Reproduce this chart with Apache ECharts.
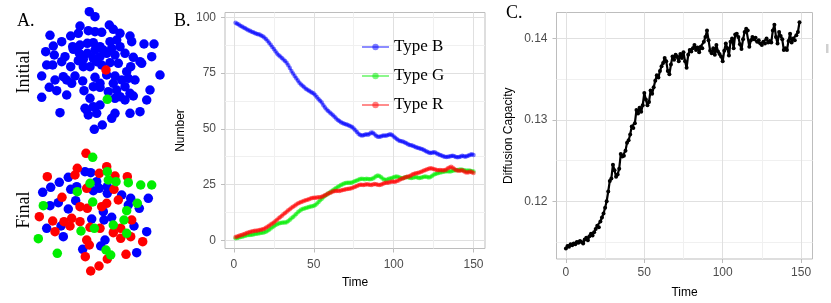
<!DOCTYPE html>
<html><head><meta charset="utf-8">
<script src="https://cdn.jsdelivr.net/npm/echarts@6/dist/echarts.min.js"></script>
<style>html,body{margin:0;padding:0;background:#fff}#c{width:831px;height:303px}</style>
</head><body><div id="c"></div>
<script>
// ---------- Panel A: network nodes (x, y in panel units, type) ----------
const initialNodes = [
[89.3,11.7,'B'],[95,16.7,'B'],[80,26,'B'],[78.3,33.3,'B'],[70.7,36,'B'],[88.3,30.7,'B'],[95,31.7,'B'],[101.7,32.3,'B'],
[109.3,25,'B'],[113.3,29.3,'B'],[120,33.3,'B'],[130,36,'B'],[131.7,41.7,'B'],[144,44,'B'],[154,44,'B'],[50,35.3,'B'],
[53.3,46,'B'],[61.7,41.7,'B'],[72.7,46.7,'B'],[80,45,'B'],[87.3,43.3,'B'],[93.3,42.7,'B'],[100,46.7,'B'],[110,41.7,'B'],
[116.7,40,'B'],[111.7,48.3,'B'],[120,46.7,'B'],[45.7,51.7,'B'],[54.3,55,'B'],[65,56.7,'B'],[73.3,49.3,'B'],[79.3,53.3,'B'],
[87.3,53.3,'B'],[95,50,'B'],[103.3,50,'B'],[106.7,53.3,'B'],[115,55,'B'],[125,53.3,'B'],[133.3,57.3,'B'],[140,61.7,'B'],
[151.7,56.7,'B'],[100,56.7,'B'],[93.3,58.3,'B'],[83.3,59.3,'B'],[46.7,65,'B'],[52.7,65,'B'],[61.7,61.7,'B'],[70.7,66.7,'B'],
[78.3,60.7,'B'],[83.3,66.7,'B'],[90,66.7,'B'],[96.7,61.7,'B'],[101.7,65,'B'],[110,62.7,'B'],[118.3,63.3,'B'],[130.7,66.7,'B'],
[141.7,63.3,'B'],[126.7,71.7,'B'],[41.7,76,'B'],[55,80,'B'],[63.3,76.7,'B'],[66.7,80,'B'],[71.7,83.3,'B'],[75,76,'B'],
[82.7,81,'B'],[95,77.3,'B'],[106.7,75,'B'],[115,76,'B'],[121.7,80,'B'],[128.3,78.3,'B'],[135,80,'B'],[160,75,'B'],
[49.3,87.3,'B'],[56.7,90.7,'B'],[66.7,95,'B'],[84,90.7,'B'],[93.3,86.7,'B'],[100,87.3,'B'],[108.3,91.7,'B'],[116.7,90,'B'],
[125,86.7,'B'],[130,93.3,'B'],[133.3,96,'B'],[150,90,'B'],[41.7,97.3,'B'],[146.7,100,'B'],[90,98.3,'B'],[86.7,110,'B'],
[93.3,106.7,'B'],[100,105,'B'],[115,98.3,'B'],[120,96.7,'B'],[125,100,'B'],[60,112.7,'B'],[85,108.3,'B'],[88.3,115,'B'],
[96.7,113.3,'B'],[111.7,118.3,'B'],[115,113.3,'B'],[130,113.3,'B'],[140,111.7,'B'],[102.3,125,'B'],[94.3,129.3,'B'],
[100,83.3,'B'],[113.3,83.3,'B'],[106,70,'R'],[107.3,99.3,'G']
];
const finalNodes = [
[86,153.3,'R'],[92.7,157.3,'G'],[77.3,168.3,'R'],[106.7,166.7,'R'],[107.3,171.7,'G'],[115,176,'R'],[127.3,176.7,'R'],
[85,171.7,'B'],[90.7,172.7,'B'],[99.3,173.3,'R'],[68.3,177.3,'B'],[75,175,'R'],[47.3,176.7,'R'],[90,183.3,'G'],
[96.7,181.7,'B'],[108.3,180,'G'],[107.3,186.7,'B'],[116,181.7,'G'],[128.3,182.7,'G'],[140.7,185,'G'],[151.7,185,'G'],
[59.3,182.3,'B'],[50.7,187.3,'B'],[42.7,192.3,'B'],[70.7,189.3,'B'],[76.7,186.7,'B'],[77.3,191.7,'G'],[86.7,188.3,'R'],
[93.3,190.7,'B'],[99.3,188.3,'B'],[107.3,193.3,'B'],[114,189.3,'R'],[121.7,195,'B'],[130.7,198.3,'B'],[148.3,198.3,'B'],
[118.3,200,'R'],[62,197.3,'R'],[58.3,202.7,'B'],[50,205.7,'B'],[43.3,205.7,'G'],[75.7,200.7,'B'],[92.7,202,'G'],
[106.7,203.3,'R'],[101.7,206.7,'R'],[68.3,209,'B'],[80,206.7,'R'],[87.3,208.3,'R'],[103.3,211.7,'B'],[128.3,205,'B'],
[137.3,203.3,'G'],[139.3,208.3,'B'],[126.7,210.7,'G'],[124,220,'G'],[111.7,217.3,'B'],[104,220,'B'],[71.7,218.3,'R'],
[64,221.7,'R'],[52.7,221,'R'],[39.3,216.7,'R'],[80,221.7,'R'],[91.7,219,'B'],[131.7,220,'R'],[70,226,'R'],[61,226,'B'],
[46.7,228.3,'B'],[55,231.7,'R'],[100,228.3,'R'],[94.3,228.3,'G'],[90,227.3,'R'],[81,231,'G'],[113.3,225,'G'],
[120.7,228.3,'R'],[134,226,'B'],[146.7,231.7,'B'],[126.7,233.3,'G'],[113.3,232.7,'R'],[63.3,236.7,'B'],[38.3,238.7,'G'],
[86.7,240,'R'],[105,240,'B'],[120.7,238.3,'R'],[130.7,236.7,'R'],[142.7,241.7,'R'],[100.7,246,'B'],[89.3,245,'R'],
[82.7,249.3,'B'],[106,250,'G'],[136.7,252.7,'B'],[57.3,253.3,'G'],[85.3,256.7,'R'],[110.7,255,'G'],[107.3,259,'R'],
[126,254.3,'R'],[99,266,'R'],[90.7,271,'R']
];
const nodeColors = {B:'#0000ff', R:'#ff0000', G:'#00ee00'};

// ---------- Panel B: counts per type over time (t = 1..150) ----------
const timeB = [];
for (let t = 1; t <= 150; t++) timeB.push(t);
const typeB = [
97.5,97.1,96.7,96.2,95.8,95.4,95.0,94.6,94.2,93.9,
93.5,93.2,92.9,92.6,92.4,92.2,91.8,91.5,90.9,90.2,
89.5,88.6,87.6,86.7,85.8,84.8,83.7,83.0,82.4,81.7,
81.0,80.4,79.6,78.5,77.2,75.9,74.8,73.7,72.7,71.6,
70.6,69.9,69.3,68.6,68.0,67.5,67.0,66.6,66.2,65.8,
65.0,64.1,63.3,62.6,61.8,60.6,59.5,58.7,58.0,57.3,
56.7,56.1,55.4,54.6,54.0,53.5,53.0,52.6,52.3,52.1,
51.8,51.5,51.2,50.8,50.2,49.4,48.6,47.8,47.2,47.0,
47.1,47.4,47.6,47.4,47.8,48.3,48.2,47.6,46.9,46.5,
46.4,46.6,46.9,47.0,46.9,47.1,47.4,47.6,47.2,46.6,
46.0,45.4,44.9,44.6,44.4,44.2,43.9,43.5,43.1,42.8,
42.6,42.4,42.1,41.8,41.5,41.3,41.1,40.8,40.5,40.1,
39.7,39.4,39.2,39.3,39.5,39.4,39.0,38.6,38.3,38.0,
37.7,37.5,37.4,37.5,37.6,37.8,37.9,37.7,37.4,37.3,
37.4,37.6,37.9,37.7,37.5,37.8,38.1,38.4,38.6,38.3];
const typeG = [
1.0,1.1,1.3,1.5,1.7,1.9,2.1,2.3,2.4,2.5,
2.6,2.7,2.9,3.0,3.1,3.2,3.4,3.5,3.7,3.9,
4.3,4.8,5.4,5.9,6.4,6.9,7.3,7.6,7.8,7.9,
8.0,8.1,8.2,8.7,9.3,9.9,10.5,11.2,11.9,12.6,
13.2,13.7,14.1,14.3,14.5,14.8,15.0,15.2,15.3,15.5,
15.9,16.5,17.2,18.0,18.7,19.4,20.0,20.5,21.0,21.5,
22.0,22.5,23.0,23.5,24.0,24.4,24.8,25.2,25.5,25.7,
25.8,25.9,25.8,26.0,26.3,26.6,26.9,27.2,27.5,27.6,
27.5,27.4,27.6,27.5,27.4,27.5,27.7,28.2,28.8,29.1,
28.9,28.4,27.8,27.3,27.1,27.3,27.6,27.8,28.0,28.3,
28.5,28.6,28.4,28.1,27.9,28.0,28.2,28.4,28.3,28.1,
28.0,28.1,28.3,28.4,28.2,28.0,28.1,28.3,28.5,28.6,
28.4,28.2,28.4,28.9,29.4,29.8,30.0,30.2,30.4,30.6,
30.8,30.9,31.0,31.0,30.9,31.0,31.2,31.4,31.5,31.6,
31.7,31.8,31.7,31.5,31.3,31.2,31.3,31.2,31.0,30.9];
const typeR = [
1.5,1.8,2.0,2.3,2.5,2.8,3.0,3.3,3.6,3.8,
4.0,4.1,4.3,4.4,4.5,4.7,4.8,5.0,5.3,5.7,
6.1,6.6,7.1,7.6,8.1,8.7,9.3,9.9,10.5,11.1,
11.7,12.3,12.9,13.5,14.0,14.6,15.1,15.6,16.1,16.5,
16.9,17.2,17.5,17.8,18.0,18.2,18.5,18.8,19.0,19.1,
19.1,19.2,19.3,19.4,19.6,19.9,20.2,20.6,21.0,21.3,
21.6,21.9,22.1,22.2,22.3,22.2,22.4,22.6,22.7,22.9,
23.0,23.2,23.3,23.5,23.8,24.1,24.4,24.7,25.0,24.9,
24.8,25.0,25.2,25.1,24.9,24.8,25.1,25.3,25.2,24.9,
24.8,25.0,25.3,25.6,25.8,25.9,26.0,26.2,26.4,26.3,
26.3,26.6,26.9,27.3,27.6,27.9,28.2,28.4,28.6,28.8,
29.2,29.6,29.9,30.1,30.2,30.4,30.7,31.0,31.3,31.6,
31.9,32.1,32.3,32.2,32.0,31.8,31.6,31.5,31.6,31.5,
31.4,31.5,31.8,32.3,32.7,33.0,32.6,32.0,31.6,31.3,
31.2,31.3,31.4,31.0,30.6,30.4,30.6,30.9,30.5,30.2];

// ---------- Panel C: diffusion capacity (t = 0..149) ----------
const timeC = [];
for (let t = 0; t < 150; t++) timeC.push(t);
const diffusion = [
.1142,.1145,.1144,.1147,.1146,.1148,.1147,.1150,.1149,.1151,
.1150,.1148,.1153,.1155,.1152,.1157,.1160,.1158,.1162,.1166,
.1170,.1168,.1175,.1180,.1185,.1192,.1200,.1212,.1225,.1228,
.1245,.1238,.1230,.1233,.1240,.1258,.1255,.1256,.1262,.1272,
.1275,.1282,.1292,.1290,.1296,.1312,.1308,.1315,.1310,.1318,
.1333,.1325,.1318,.1322,.1336,.1332,.1340,.1348,.1355,.1352,
.1360,.1366,.1370,.1376,.1372,.1360,.1356,.1368,.1378,.1374,
.1380,.1378,.1372,.1381,.1376,.1383,.1372,.1364,.1380,.1386,
.1384,.1388,.1392,.1386,.1389,.1383,.1390,.1388,.1396,.1402,
.1410,.1398,.1385,.1382,.1388,.1380,.1392,.1384,.1381,.1378,
.1372,.1385,.1394,.1388,.1379,.1396,.1400,.1388,.1405,.1406,
.1402,.1393,.1387,.1399,.1408,.1412,.1410,.1390,.1398,.1402,
.1399,.1401,.1396,.1398,.1394,.1392,.1396,.1394,.1400,.1395,
.1397,.1395,.1410,.1417,.1402,.1394,.1408,.1403,.1399,.1386,
.1388,.1386,.1397,.1406,.1395,.1400,.1398,.1404,.1408,.1420];

const xTicks = [0, 50, 100, 150];
const xGridB = [0, 25, 50, 75, 100, 125, 150];
const yTicksB = [0, 25, 50, 75, 100];
const yGridB = [0, 12.5, 25, 37.5, 50, 62.5, 75, 87.5, 100];
const yTicksC = [0.12, 0.13, 0.14];
const yGridC = [0.115, 0.12, 0.125, 0.13, 0.135, 0.14];
const seriesNames = ['Type B', 'Type G', 'Type R'];

// ---------- styling ----------
const SANS = 'Liberation Sans, Arial, sans-serif';
const SERIF = 'Liberation Serif, Times New Roman, serif';
const MAJOR = '#e0e0e0', MINOR = '#f0f0f0', BORDER = '#bdbdbd', TICKTXT = '#4d4d4d';

function gridAxis(gi, min, max, ticks, colors, pos) {
  return {type:'value', gridIndex:gi, min, max, position:pos,
    axisLine:{show:false, onZero:false}, axisTick:{show:false, customValues:ticks}, axisLabel:{show:false, customValues:ticks},
    splitLine:{show:true, lineStyle:{color:colors, width:1}}};
}
function labelAxis(gi, min, max, step, ticks, pos, margin, name, nameGap) {
  return {type:'value', gridIndex:gi, min, max, minInterval:step, maxInterval:step, position:pos,
    axisLine:{show:false, onZero:false},
    axisTick:{show:true, length:4, customValues:ticks, lineStyle:{color:BORDER}},
    axisLabel:{show:true, customValues:ticks, margin,
      color:TICKTXT, fontSize:12, fontFamily:SANS},
    splitLine:{show:false},
    name, nameLocation:'middle', nameGap,
    nameTextStyle:{color:'#000', fontSize:12, fontFamily:SANS}};
}

const chart = echarts.init(document.getElementById('c'), null, {renderer:'canvas'});

function nodeSeries(nodes, type) {
  return {type:'scatter', xAxisIndex:0, yAxisIndex:0, symbol:'circle', symbolSize:9.5, clip:false,
    itemStyle:{color:nodeColors[type], opacity:1}, z:3,
    data:nodes.filter(n => n[2] === type).map(n => [n[0], n[1]])};
}
const lineColors = ['#0000ff', '#00ee00', '#ff0000'];
const seriesB = [typeB, typeG, typeR].map((arr, i) => ({
  type:'line', name:seriesNames[i], xAxisIndex:2, yAxisIndex:2,
  data:arr.map((v, j) => [timeB[j], v]),
  symbol:'circle', symbolSize:4.5, showSymbol:true,
  lineStyle:{color:lineColors[i], width:2, opacity:0.45},
  itemStyle:{color:lineColors[i], opacity:0.5}, z:3
}));

chart.setOption({
  animation:false,
  tooltip:{show:false},
  grid:[
    {left:0, top:0, width:170, height:303, containLabel:false, outerBoundsMode:'none'},
    {left:225, top:12.5, width:260, height:236, show:true, borderColor:BORDER, borderWidth:1, backgroundColor:'transparent', containLabel:false, outerBoundsMode:'none'},
    {left:556.5, top:12.5, width:256, height:246.5, show:true, borderColor:BORDER, borderWidth:1, backgroundColor:'transparent', containLabel:false, outerBoundsMode:'none'}
  ],
  xAxis:[
    {type:'value', gridIndex:0, min:0, max:170, show:false},
    gridAxis(1, -5.6, 157.2, xGridB, [MAJOR, MINOR], 'bottom'),
    labelAxis(1, -5.6, 157.2, 50, xTicks, 'bottom', 10, 'Time', 28),
    gridAxis(2, -6.0, 157.3, xGridB, [MAJOR, MINOR], 'bottom'),
    labelAxis(2, -6.0, 157.3, 50, xTicks, 'bottom', 8, 'Time', 27.5)
  ],
  yAxis:[
    {type:'value', gridIndex:0, min:0, max:303, inverse:true, show:false},
    gridAxis(1, -3.6, 102.1, yGridB, [MAJOR, MINOR], 'left'),
    labelAxis(1, -3.6, 102.1, 25, yTicksB, 'left', 9, 'Number', 38),
    gridAxis(2, 0.1129, 0.1432, yGridC, [MINOR, MAJOR], 'left'),
    labelAxis(2, 0.1129, 0.1432, 0.01, yTicksC, 'left', 9, 'Diffusion Capacity', 42)
  ],
  legend:{
    show:true, data:seriesNames, orient:'vertical', left:356, top:33.5,
    itemWidth:27, itemHeight:8, itemGap:12,
    textStyle:{fontFamily:SERIF, fontSize:17, color:'#000'},
    selectedMode:false
  },
  series:[
    nodeSeries(initialNodes, 'B'), nodeSeries(initialNodes, 'R'), nodeSeries(initialNodes, 'G'),
    nodeSeries(finalNodes, 'B'), nodeSeries(finalNodes, 'R'), nodeSeries(finalNodes, 'G'),
    ...seriesB,
    {type:'line', name:'Diffusion', xAxisIndex:4, yAxisIndex:4,
      data:diffusion.map((v, j) => [timeC[j], v]),
      symbol:'circle', symbolSize:4, showSymbol:true,
      lineStyle:{color:'#000', width:2.2}, itemStyle:{color:'#000'}, z:3}
  ],
  graphic:[
    {type:'text', left:17, top:12, style:{text:'A.', font:'18px ' + SERIF, fill:'#000'}},
    {type:'text', left:174, top:12, style:{text:'B.', font:'18px ' + SERIF, fill:'#000'}},
    {type:'text', left:506, top:4, style:{text:'C.', font:'18px ' + SERIF, fill:'#000'}},
    {type:'text', x:24.5, y:72, rotation:Math.PI/2,
      style:{text:'Initial', font:'18px ' + SERIF, fill:'#000', align:'center', verticalAlign:'middle'}},
    {type:'text', x:24.5, y:210, rotation:Math.PI/2,
      style:{text:'Final', font:'18px ' + SERIF, fill:'#000', align:'center', verticalAlign:'middle'}},
    {type:'rect', shape:{x:826, y:44, width:2.5, height:9}, style:{fill:'#d0d0d0'}}
  ]
});
</script></body></html>
